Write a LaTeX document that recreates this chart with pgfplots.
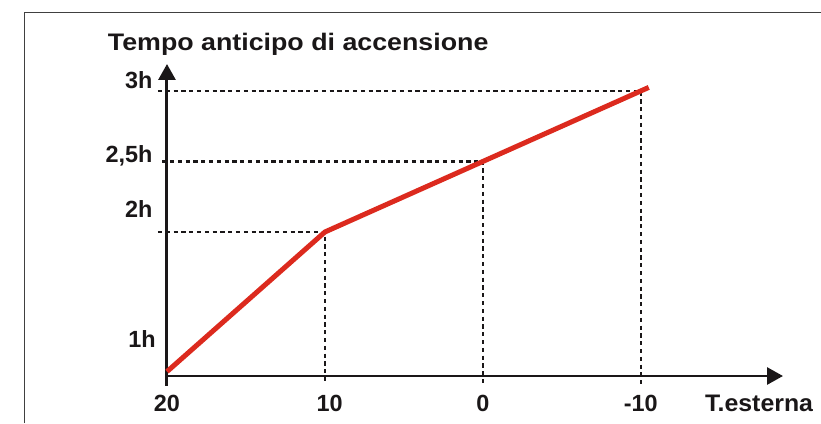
\documentclass[border=0pt]{standalone}
\usepackage{fontspec}
\setmainfont{Liberation Sans}
\usepackage{pgfplots}
\pgfplotsset{compat=1.18}
\usetikzlibrary{arrows.meta}
\definecolor{linered}{HTML}{DC2A1E}
\definecolor{ink}{HTML}{1A1718}
\tikzset{lbl/.style={font=\bfseries\fontsize{23.5}{27}\selectfont, text=ink, xscale=1.0}}

\begin{document}
\begin{tikzpicture}[x=1bp,y=1bp]
\useasboundingbox (0,0) rectangle (821,423);
% frame
\draw[line width=1bp, black!75] (24,0) -- (24,410) -- (821,410);

\begin{axis}[
  at={(167bp,47bp)}, anchor=south west,
  scale only axis,
  width=616bp, height=312bp,
  x dir=reverse,
  xmin=-19, xmax=20,
  ymin=0.9787, ymax=3.191,
  hide axis,
  clip=false,
]
% guide lines
\addplot[ink, line width=2.2bp, dash pattern=on 4.2bp off 3.6bp]
  coordinates {(20.57,3) (-10,3) (-10,0.922)};
\addplot[ink, line width=2.2bp, dash pattern=on 4.2bp off 3.6bp]
  coordinates {(20.3,2.5) (0,2.5) (0,0.922)};
\addplot[ink, line width=2.2bp, dash pattern=on 4.2bp off 3.6bp]
  coordinates {(20.57,2) (10,2) (10,0.922)};

% axes
\draw[ink, line width=2.8bp, -{Triangle[length=16bp,width=17bp]}]
  (axis cs:20,0.9787) -- (axis cs:-19,0.9787);
\draw[ink, line width=3bp, -{Triangle[length=16bp,width=17bp]}]
  (axis cs:20,0.908) -- (axis cs:20,3.191);

% curve
\addplot[linered, line width=5bp, line join=round]
  coordinates {(20,1.01) (10,2) (0,2.5) (-10,3) (-10.5,3.025)};

% y labels
\node[lbl, anchor=base east] at (axis cs:20.7,3.015) {3h};
\node[lbl, anchor=base east] at (axis cs:20.7,2.49) {2,5h};
\node[lbl, anchor=base east] at (axis cs:20.7,2.10) {2h};
\node[lbl, anchor=base east] at (axis cs:20.5,1.18) {1h};
% x labels
\node[lbl, anchor=base] at (axis cs:20,0.725) {20};
\node[lbl, anchor=base] at (axis cs:9.7,0.725) {10};
\node[lbl, anchor=base] at (axis cs:0,0.725) {0};
\node[lbl, anchor=base] at (axis cs:-10,0.725) {-10};
\end{axis}

\node[font=\bfseries\fontsize{24}{28}\selectfont, text=ink, xscale=1.04, anchor=base west, inner sep=0pt] at (705,12) {T.esterna};
\node[font=\bfseries\fontsize{24}{28}\selectfont, text=ink, xscale=1.12, anchor=base west] at (104,373) {Tempo anticipo di accensione};
\end{tikzpicture}
\end{document}
